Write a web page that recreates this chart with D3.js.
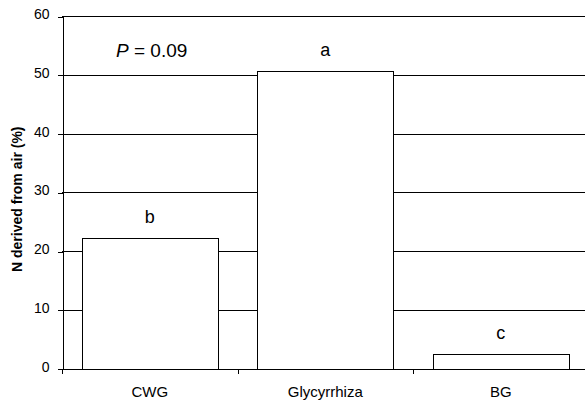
<!DOCTYPE html>
<head>
    <title> N derived from air </title>
    <meta charset="utf-8">
</head>
<style>
    body { margin: 0; background: #fff; }
    svg text { font-family: "Liberation Sans", Arial, sans-serif; fill: #000; }
    .grid line { stroke: #000; stroke-width: 1px; shape-rendering: crispEdges; }
    .axis path, .axis line { stroke: #000; shape-rendering: crispEdges; }
    .bar { fill: #fff; stroke: #000; stroke-width: 1px; shape-rendering: crispEdges; }
</style>
<body>
<script src="https://cdnjs.cloudflare.com/ajax/libs/d3/7.8.5/d3.min.js"></script>
<script>
// data
var categories = ["CWG", "Glycyrrhiza", "BG"];
var values = [22.2, 50.7, 2.4];
var letters = ["b", "a", "c"];
var yTicks = [0, 10, 20, 30, 40, 50, 60];
var yTitle = "N derived from air (%)";
var pNote = "0.09";

var width = 585,
    height = 400;

// plot area (note: "top" is taken by window.top, so prefix these)
var plotLeft = 62, plotRight = 588.5, plotTop = 16, plotBottom = 368.5;

var svg = d3.select("body")
            .append("svg")
            .attr("width", width)
            .attr("height", height);

var x = d3.scaleBand()
        .domain(categories)
        .range([plotLeft, plotRight])
        .paddingInner(0.227)
        .paddingOuter(0.1135);

var y = d3.scaleLinear()
        .domain([0, 60])
        .range([plotBottom, plotTop]);

// gridlines
svg.append("g")
    .attr("class", "grid")
    .selectAll("line")
    .data(yTicks.slice(1))
    .enter()
    .append("line")
    .attr("x1", plotLeft)
    .attr("x2", plotRight)
    .attr("y1", function(d){ return Math.round(y(d)) + 0.5; })
    .attr("y2", function(d){ return Math.round(y(d)) + 0.5; });

// bars
svg.selectAll(".bar")
    .data(values)
    .enter()
    .append("rect")
    .attr("class", "bar")
    .attr("x", function(d, i){ return Math.round(x(categories[i])) + 0.5; })
    .attr("y", function(d){ return Math.round(y(d)) + 0.5; })
    .attr("width", Math.round(x.bandwidth()))
    .attr("height", function(d){ return Math.round(y(0)) - Math.round(y(d)); });

// significance letters
svg.selectAll(".letter")
    .data(letters)
    .enter()
    .append("text")
    .attr("class", "letter")
    .attr("x", function(d, i){ return x(categories[i]) + x.bandwidth()/2; })
    .attr("y", function(d, i){ return y(values[i]) - 15; })
    .attr("text-anchor", "middle")
    .style("font-size", "18px")
    .text(function(d){ return d; });

// y axis
var yAxis = svg.append("g")
    .attr("class", "axis")
    .attr("transform", "translate(" + (plotLeft + 0.5) + ",0.5)")
    .call(d3.axisLeft(y).tickValues(yTicks).tickSize(5).tickPadding(8).tickSizeOuter(0));
yAxis.selectAll("text")
    .style("font-size", "14px")
    .attr("dy", "0.15em");

// x axis: ticks sit on the band boundaries
var xAxis = svg.append("g")
    .attr("class", "axis")
    .attr("transform", "translate(0," + (Math.round(plotBottom) + 0.5) + ")");
xAxis.append("line")
    .attr("x1", plotLeft)
    .attr("x2", plotRight);
xAxis.selectAll(".sep")
    .data(categories.concat(["end"]))
    .enter()
    .append("line")
    .attr("x1", function(d, i){ return Math.round(plotLeft + i * x.step()) + 0.5; })
    .attr("x2", function(d, i){ return Math.round(plotLeft + i * x.step()) + 0.5; })
    .attr("y1", 0)
    .attr("y2", 4);
xAxis.selectAll(".cat")
    .data(categories)
    .enter()
    .append("text")
    .attr("x", function(d){ return x(d) + x.bandwidth()/2; })
    .attr("y", 27)
    .attr("text-anchor", "middle")
    .style("font-size", "15px")
    .text(function(d){ return d; });

// y title
svg.append("text")
    .attr("transform", "translate(22," + ((plotTop + plotBottom)/2 + 7) + ") rotate(-90)")
    .attr("text-anchor", "middle")
    .style("font-size", "14px")
    .style("font-weight", "bold")
    .text(yTitle);

// P value note
var note = svg.append("text")
    .attr("x", 116)
    .attr("y", 57)
    .style("font-size", "19px");
note.append("tspan").style("font-style", "italic").text("P");
note.append("tspan").text(" = " + pNote);
</script>
</body>
